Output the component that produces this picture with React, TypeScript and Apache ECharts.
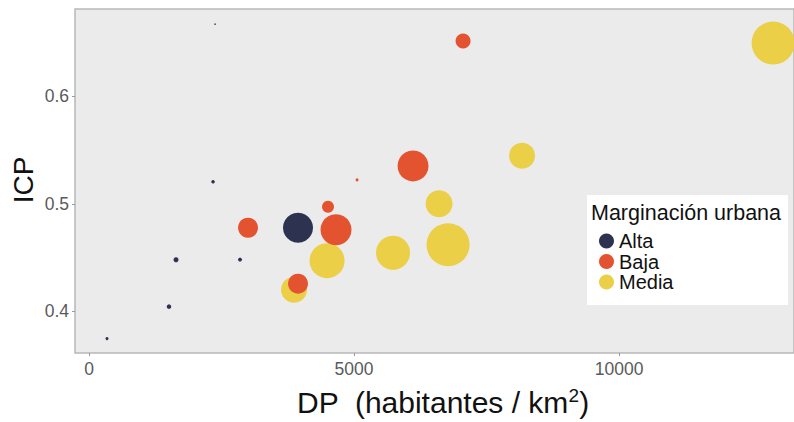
import React, { useEffect, useRef } from "react";
import * as echarts from "echarts";

// [DP (habitantes/km2), ICP, tamaño]
const alta: number[][] = [
  [2377, 0.6674, 1.5],
  [2340, 0.5205, 3.5],
  [1642, 0.4479, 5],
  [2849, 0.448, 4],
  [1509, 0.4042, 4.5],
  [340, 0.3744, 3],
  [3943, 0.4777, 30],
];
const baja: number[][] = [
  [7057, 0.6516, 15],
  [6113, 0.5353, 31],
  [5057, 0.5223, 3],
  [3000, 0.4777, 20],
  [4509, 0.4972, 12],
  [4660, 0.4758, 31],
  [3943, 0.4256, 20],
];
const media: number[][] = [
  [12906, 0.6498, 43],
  [8170, 0.5447, 26],
  [6604, 0.5, 27],
  [6774, 0.4619, 43],
  [5736, 0.4544, 34],
  [4491, 0.447, 35],
  [3868, 0.42, 26],
];
const xTicks = [0, 5000, 10000];
const yTicks = [0.4, 0.5, 0.6];
const categories = ["Alta", "Baja", "Media"];
const legendTitle = "Marginación urbana";

const FONT = "Liberation Sans, Arial, sans-serif";

export default function App() {
  const ref = useRef<HTMLDivElement>(null);
  useEffect(() => {
    if (!ref.current) return;
    const chart = echarts.init(ref.current, null, { renderer: "svg" });
    const colors = ["#2C3250", "#E4532F", "#EACF47"];
    const sets = [alta, baja, media];
    chart.setOption({
      animation: false,
      textStyle: { fontFamily: FONT },
      grid: {
        left: 75,
        top: 9,
        right: 0,
        bottom: 69,
        show: true,
        backgroundColor: "#EBEBEB",
        borderColor: "#B8B8B8",
        borderWidth: 1.5,
      },
      xAxis: {
        type: "value",
        min: -264,
        max: 13300,
        splitLine: { show: false },
        axisLine: { show: false, onZero: false },
        axisTick: {
          show: true,
          inside: false,
          length: 3,
          customValues: xTicks,
          lineStyle: { color: "#999" },
        },
        axisLabel: {
          customValues: xTicks,
          fontSize: 17.5,
          color: "#5a5a5a",
          margin: 7,
          fontFamily: FONT,
          formatter: (v: number) => String(v),
        },
      },
      yAxis: {
        type: "value",
        min: 0.361,
        max: 0.6815,
        splitLine: { show: false },
        axisLine: { show: false, onZero: false },
        axisTick: {
          show: true,
          inside: false,
          length: 3,
          customValues: yTicks,
          lineStyle: { color: "#999" },
        },
        axisLabel: {
          customValues: yTicks,
          fontSize: 17.5,
          color: "#5a5a5a",
          margin: 6,
          fontFamily: FONT,
          formatter: (v: number) => v.toFixed(1),
        },
      },
      legend: {
        data: categories,
        orient: "vertical",
        left: 594,
        top: 226,
        icon: "circle",
        itemWidth: 15,
        itemHeight: 15,
        itemGap: 0.5,
        textStyle: { fontSize: 20, color: "#111", lineHeight: 19, fontFamily: FONT },
        z: 10,
      },
      graphic: [
        {
          type: "rect",
          shape: { x: 587, y: 195, width: 201, height: 110 },
          style: { fill: "#FFFFFF" },
          z: 5,
        },
        {
          type: "text",
          x: 591,
          y: 213,
          z: 6,
          style: {
            text: legendTitle,
            fontSize: 21.5,
            fill: "#111",
            fontFamily: FONT,
            textVerticalAlign: "middle",
          },
        },
        {
          type: "text",
          x: 23,
          y: 180,
          rotation: Math.PI / 2,
          style: {
            text: "ICP",
            fontSize: 28,
            fill: "#111",
            fontFamily: FONT,
            textAlign: "center",
            textVerticalAlign: "middle",
          },
        },
        {
          type: "text",
          x: 443,
          y: 402,
          style: {
            text: "{a|DP  (habitantes / km}{s|2}{a|)}",
            textAlign: "center",
            textVerticalAlign: "middle",
            rich: {
              a: { fontSize: 30, lineHeight: 32, fill: "#111", fontFamily: FONT },
              s: { fontSize: 19, lineHeight: 19, verticalAlign: "top", fill: "#111", fontFamily: FONT },
            },
          },
        },
      ],
      series: categories.map((name, i) => ({
        name,
        type: "scatter",
        data: sets[i],
        z: 4 - i,
        symbol: "circle",
        symbolSize: (v: number[]) => v[2],
        itemStyle: { color: colors[i], opacity: 1 },
        emphasis: { disabled: true },
      })),
    });
    return () => chart.dispose();
  }, []);
  return (
    <div
      ref={ref}
      style={{ position: "fixed", left: 0, top: 0, width: 794, height: 422, background: "#fff" }}
    />
  );
}
